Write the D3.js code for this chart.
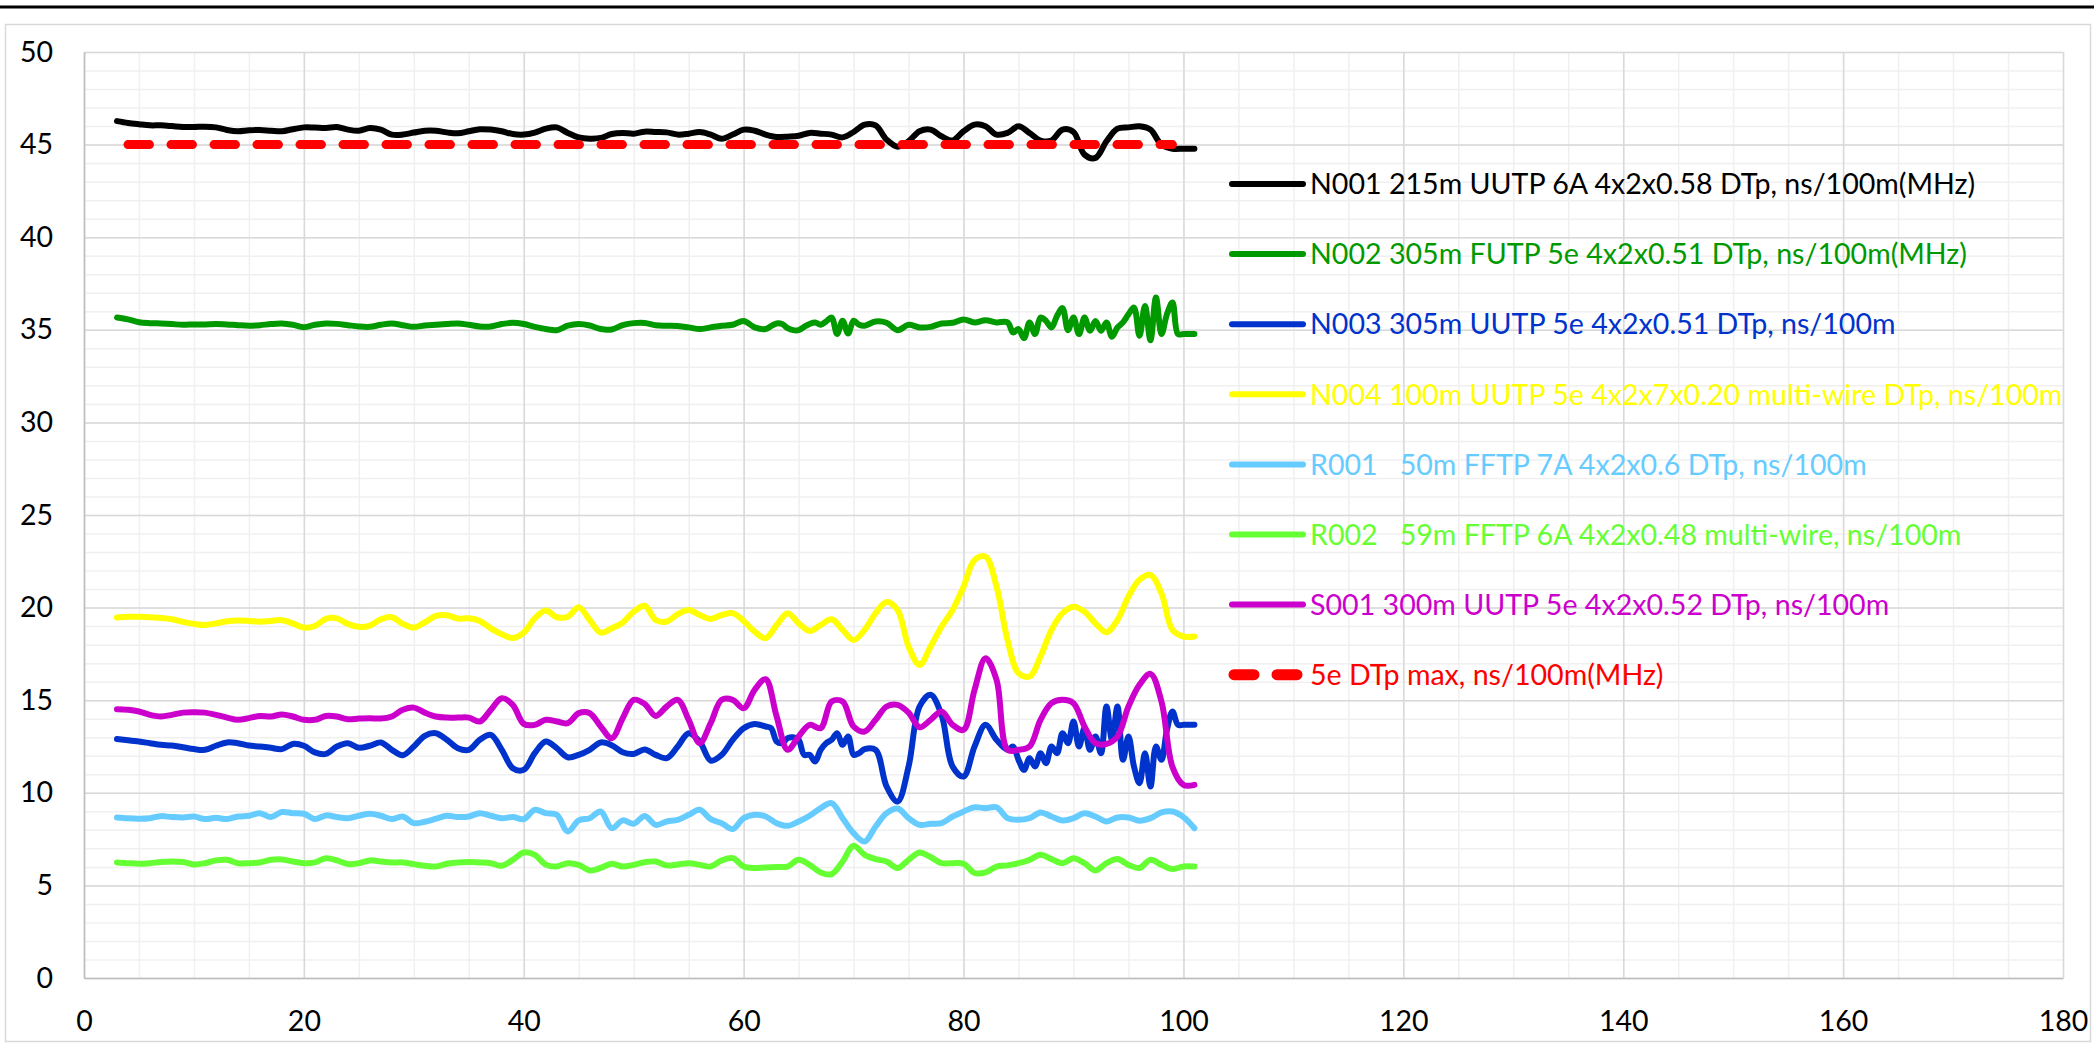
<!DOCTYPE html>
<html>
<head>
<meta charset="utf-8">
<script src="https://cdn.jsdelivr.net/npm/d3@7"></script>
<style>
  body { margin: 0; background: #fff; }
  text { font-family: Lato, "Open Sans", sans-serif; }
</style>
</head>
<body>
<div id="chart"></div>
<script>
// Frequency samples (MHz)
const freq = [3,4,5,6,7,8,9,10,11,12,13,14,15,16,17,18,19,20,21,22,23,24,25,26,27,28,29,30,
  31,32,33,34,35,36,37,38,39,40,41,42,43,44,45,46,47,48,49,50,51,52,53,54,55,56,57,58,59,60,
  61,62,63,64,65,66,67,68,69,70,71,72,73,74,75,76,77,78,79,80,81,82,83,84,85,86,87,88,89,90,
  91,92,93,94,95,96,97,98,99,100,101];

// finer sampling used by the two noisy series
const freqFine = [3,4,5,6,7,8,9,10,11,12,13,14,15,16,17,18,19,20,21,22,23,24,25,26,27,28,29,30,
  31,32,33,34,35,36,37,38,39,40,41,42,43,44,45,46,47,48,49,50,51,52,53,54,55,56,57,58,59,60,61,62,
  62.5,63,63.5,64,64.5,65,65.5,66,66.5,67,67.5,68,68.5,69,69.5,70,70.5,
  71,72,73,74,75,76,77,78,79,80,81,82,83,84,
  84.5,85,85.5,86,86.5,87,87.5,88,88.5,89,89.5,90,90.5,91,91.5,92,92.5,93,93.5,94,94.5,95,95.5,
  96,96.5,97,97.5,98,98.5,99,99.5,100,101];

const n001 = [46.27,46.17,46.1,46.04,46.04,46.0,45.95,45.95,45.97,45.93,45.79,45.72,45.77,45.79,45.75,
  45.72,45.83,45.93,45.92,45.9,45.95,45.81,45.75,45.9,45.81,45.54,45.54,45.65,45.75,45.75,45.66,45.61,
  45.72,45.83,45.81,45.72,45.57,45.54,45.65,45.86,45.93,45.63,45.39,45.32,45.36,45.57,45.63,45.59,45.7,
  45.68,45.66,45.54,45.59,45.68,45.54,45.32,45.54,45.81,45.75,45.54,45.41,45.43,45.48,45.63,45.59,45.54,
  45.39,45.68,46.08,46.04,45.27,44.89,45.18,45.72,45.81,45.45,45.22,45.72,46.08,45.99,45.54,45.63,45.99,
  45.63,45.22,45.22,45.81,45.68,44.46,44.28,45.18,45.86,45.93,45.99,45.81,45.0,44.78,44.78,44.78];

const n002 = [35.66,35.56,35.41,35.36,35.34,35.31,35.27,35.29,35.29,35.31,35.29,35.25,35.22,35.25,35.31,
  35.34,35.27,35.14,35.27,35.34,35.32,35.25,35.18,35.16,35.27,35.34,35.25,35.16,35.23,35.27,35.31,35.34,
  35.27,35.18,35.18,35.31,35.38,35.31,35.16,35.04,34.98,35.22,35.31,35.23,35.04,35.02,35.25,35.36,35.37,
  35.25,35.22,35.2,35.13,35.04,35.13,35.22,35.27,35.48,35.13,35.04,
  35.2,35.34,35.31,35.09,34.98,34.98,35.16,35.31,35.4,35.27,35.45,35.66,34.77,35.49,34.8,35.49,35.27,
  35.22,35.45,35.38,34.98,35.27,35.13,35.16,35.34,35.38,35.56,35.4,35.52,35.4,35.4,
  34.86,35.04,34.55,35.4,34.77,35.66,35.48,35.13,35.75,36.17,34.98,35.66,34.77,35.66,34.95,35.48,34.95,
  35.4,34.62,35.13,35.4,35.84,36.2,34.68,36.29,34.44,36.74,34.77,35.84,36.47,34.77,34.77,34.77];

const n003 = [12.9,12.84,12.77,12.68,12.59,12.55,12.46,12.36,12.32,12.54,12.72,12.68,12.55,12.5,12.43,
  12.36,12.64,12.54,12.18,12.1,12.5,12.68,12.43,12.54,12.72,12.32,12.03,12.5,13.08,13.22,12.86,12.41,
  12.32,12.86,13.13,12.32,11.33,11.24,12.14,12.77,12.41,11.92,12.05,12.32,12.72,12.57,12.19,12.1,12.34,
  12.05,11.87,12.5,13.22,12.77,11.74,12.05,12.86,13.49,13.72,13.58,
  13.49,12.77,12.68,12.95,13.0,12.86,12.05,12.05,11.69,12.32,12.68,12.86,13.22,12.59,13.04,12.05,12.14,
  12.36,12.32,10.34,9.53,11.42,14.66,15.29,14.2,11.42,10.88,12.5,13.67,12.86,12.32,
  12.5,11.78,11.24,11.87,11.42,12.14,11.6,12.5,12.14,13.22,12.68,13.85,12.5,13.49,12.32,13.04,12.14,
  14.66,12.86,14.66,11.78,13.04,11.42,10.52,12.14,10.34,12.5,11.78,13.4,14.39,13.67,13.67,13.67];

const n004 = [19.46,19.5,19.5,19.48,19.44,19.37,19.23,19.12,19.06,19.15,19.26,19.3,19.28,19.24,19.28,
  19.32,19.15,18.92,19.01,19.39,19.42,19.12,18.96,19.03,19.37,19.48,19.12,18.92,19.21,19.55,19.59,19.41,
  19.42,19.28,18.88,18.56,18.36,18.65,19.42,19.84,19.48,19.51,20.02,19.33,18.65,18.88,19.19,19.78,20.1,
  19.33,19.25,19.64,19.87,19.6,19.39,19.6,19.7,19.28,18.7,18.35,19.06,19.7,19.15,18.74,19.06,19.37,18.8,
  18.25,18.8,19.7,20.3,19.87,17.9,16.9,17.9,18.97,19.87,21.13,22.57,22.75,21.13,18.25,16.46,16.28,17.36,
  18.8,19.7,20.05,19.78,19.15,18.67,19.33,20.6,21.5,21.76,20.77,18.8,18.44,18.44];

const r001 = [8.67,8.62,8.6,8.63,8.74,8.69,8.67,8.72,8.58,8.65,8.58,8.72,8.76,8.9,8.69,8.96,8.9,8.87,
  8.58,8.78,8.69,8.63,8.76,8.87,8.76,8.58,8.72,8.36,8.44,8.6,8.76,8.69,8.72,8.9,8.76,8.63,8.69,8.58,
  9.08,8.9,8.81,7.91,8.51,8.63,8.99,8.09,8.51,8.33,8.75,8.27,8.45,8.54,8.81,9.08,8.58,8.36,8.04,8.63,
  8.81,8.72,8.36,8.22,8.45,8.76,9.17,9.44,8.63,7.82,7.37,8.18,8.9,9.15,8.63,8.27,8.33,8.36,8.72,8.99,
  9.22,9.17,9.22,8.63,8.54,8.63,8.94,8.72,8.51,8.63,8.9,8.72,8.45,8.67,8.67,8.49,8.63,8.94,8.99,8.69,8.09];

const r002 = [6.24,6.2,6.17,6.2,6.26,6.29,6.26,6.13,6.2,6.35,6.38,6.2,6.2,6.24,6.38,6.4,6.29,6.2,6.24,
  6.47,6.35,6.15,6.2,6.35,6.29,6.24,6.24,6.15,6.06,6.02,6.17,6.24,6.26,6.24,6.2,6.06,6.38,6.78,6.65,
  6.12,6.02,6.2,6.11,5.81,5.94,6.17,6.02,6.11,6.25,6.29,6.08,6.13,6.2,6.11,6.02,6.35,6.47,6.02,5.94,
  5.97,5.99,6.02,6.38,6.11,5.7,5.61,6.29,7.14,6.65,6.42,6.29,5.94,6.38,6.78,6.53,6.2,6.2,6.17,5.67,
  5.7,6.02,6.08,6.2,6.38,6.65,6.42,6.2,6.47,6.2,5.81,6.2,6.42,6.11,5.94,6.38,6.11,5.88,6.02,6.02];

const s001 = [14.51,14.48,14.39,14.21,14.12,14.21,14.33,14.35,14.33,14.21,14.06,13.94,14.03,14.15,14.12,
  14.23,14.12,13.94,13.94,14.15,14.12,13.97,14.01,14.03,14.01,14.12,14.48,14.6,14.33,14.12,14.06,14.06,
  14.06,13.85,14.48,15.11,14.75,13.72,13.67,13.94,13.85,13.76,14.3,14.3,13.58,12.95,14.03,15.02,14.8,
  14.15,14.66,15.02,13.94,12.68,13.76,15.02,15.02,14.57,15.56,16.13,14.12,12.32,13.04,13.67,13.49,14.93,
  14.93,13.58,13.31,13.94,14.66,14.75,14.33,13.54,13.94,14.39,13.67,13.4,15.56,17.27,16.1,12.32,12.32,
  12.5,13.94,14.84,15.02,14.84,13.58,12.68,12.64,13.04,14.66,15.83,16.42,14.93,11.4,10.43,10.43];

// 5e limit line
const limitFreq = [4, 99];
const limitVals = [45, 45];

const xTicks = [0, 20, 40, 60, 80, 100, 120, 140, 160, 180];
const yTicks = [0, 5, 10, 15, 20, 25, 30, 35, 40, 45, 50];

const seriesNames = [
  "N001 215m UUTP 6A 4x2x0.58 DTp, ns/100m(MHz)",
  "N002 305m FUTP 5e 4x2x0.51 DTp, ns/100m(MHz)",
  "N003 305m UUTP 5e 4x2x0.51 DTp, ns/100m",
  "N004 100m UUTP 5e 4x2x7x0.20 multi-wire DTp, ns/100m",
  "R001   50m FFTP 7A 4x2x0.6 DTp, ns/100m",
  "R002   59m FFTP 6A 4x2x0.48 multi-wire, ns/100m",
  "S001 300m UUTP 5e 4x2x0.52 DTp, ns/100m",
  "5e DTp max, ns/100m(MHz)"
];
const seriesColors = ["#000000", "#009900", "#0033CC", "#FFFF00", "#66CCFF", "#66FF33", "#CC00CC", "#FF0000"];

const series = [
  { x: freq, y: n001 },
  { x: freqFine, y: n002 },
  { x: freqFine, y: n003 },
  { x: freq, y: n004 },
  { x: freq, y: r001 },
  { x: freq, y: r002 },
  { x: freq, y: s001 },
  { x: limitFreq, y: limitVals, dashed: true }
].map((s, i) => ({ ...s, name: seriesNames[i], color: seriesColors[i] }));

const W = 2094, H = 1057;
const margin = { top: 52, right: 31, bottom: 79, left: 84 };
const width = W - margin.left - margin.right;
const height = H - margin.top - margin.bottom;

const root = d3.select("#chart").append("svg")
    .attr("width", W)
    .attr("height", H);

// top rule and chart frame
root.append("line")
    .attr("x1", 0).attr("x2", W).attr("y1", 7).attr("y2", 7)
    .style("stroke", "#000").style("stroke-width", 3);

root.append("rect")
    .attr("x", 5.5).attr("y", 24.5)
    .attr("width", 2085).attr("height", 1017)
    .style("fill", "none").style("stroke", "#d9d9d9").style("stroke-width", 1.5);

const svg = root.append("g")
    .attr("transform", `translate(${margin.left},${margin.top})`);

const xScale = d3.scaleLinear().domain([0, 180]).range([0, width]);
const yScale = d3.scaleLinear().domain([0, 50]).range([height, 0]);

// minor grid
svg.append("g")
    .call(d3.axisBottom(xScale).tickValues(d3.range(0, 181, 5)).tickSize(height).tickFormat(""))
    .call(g => g.select(".domain").remove())
    .selectAll("line").style("stroke", "#f0f0f0").style("stroke-width", 1.5);

svg.append("g")
    .call(d3.axisLeft(yScale).tickValues(d3.range(0, 51, 1)).tickSize(-width).tickFormat(""))
    .call(g => g.select(".domain").remove())
    .selectAll("line").style("stroke", "#f0f0f0").style("stroke-width", 1.5);

// major grid
svg.append("g")
    .call(d3.axisBottom(xScale).tickValues(xTicks).tickSize(height).tickFormat(""))
    .call(g => g.select(".domain").remove())
    .selectAll("line").style("stroke", "#d9d9d9").style("stroke-width", 1.5);

svg.append("g")
    .call(d3.axisLeft(yScale).tickValues(yTicks).tickSize(-width).tickFormat(""))
    .call(g => g.select(".domain").remove())
    .selectAll("line").style("stroke", "#d9d9d9").style("stroke-width", 1.5);

// axes labels
svg.append("g")
    .attr("transform", `translate(0,${height})`)
    .call(d3.axisBottom(xScale).tickValues(xTicks).tickSize(0).tickPadding(32))
    .call(g => g.select(".domain").style("stroke", "#bfbfbf").style("stroke-width", 1.5))
    .selectAll("text")
    .style("font-size", "28.5px").style("fill", "#000").attr("dy", "0.35em").attr("y", 43);

svg.append("g")
    .call(d3.axisLeft(yScale).tickValues(yTicks).tickSize(0).tickPadding(31))
    .call(g => g.select(".domain").style("stroke", "#bfbfbf").style("stroke-width", 1.5))
    .selectAll("text")
    .style("font-size", "28.5px").style("fill", "#000");

// series
const line = d3.line()
    .x((d) => xScale(d[0]))
    .y((d) => yScale(d[1]))
    .curve(d3.curveCatmullRom.alpha(0.5));

series.forEach(s => {
    const pts = s.x.map((f, i) => [f, s.y[i]]);
    svg.append("path")
        .datum(pts)
        .attr("d", line)
        .style("fill", "none")
        .style("stroke", s.color)
        .style("stroke-width", s.dashed ? 9 : 6)
        .style("stroke-linecap", "round")
        .style("stroke-linejoin", "round")
        .style("stroke-dasharray", s.dashed ? "21.5,21.5" : null);
});

// legend
const legend = root.append("g")
    .attr("transform", "translate(1232,184)");

legend.selectAll(".legend-item")
    .data(series)
    .enter()
    .append("g")
    .attr("class", "legend-item")
    .attr("transform", (d, i) => `translate(0, ${i * 70.1})`)
    .each(function (d) {
        const g = d3.select(this);
        if (d.dashed) {
            g.append("line")
                .attr("x1", 2).attr("x2", 68)
                .style("stroke", d.color).style("stroke-width", 11)
                .style("stroke-linecap", "round")
                .style("stroke-dasharray", "20,23");
        } else {
            g.append("line")
                .attr("x1", 0).attr("x2", 71)
                .style("stroke", d.color).style("stroke-width", 6)
                .style("stroke-linecap", "round");
        }
        g.append("text")
            .attr("x", 78)
            .attr("dy", "0.36em")
            .style("font-size", "28.6px")
            .style("fill", d.color)
            .style("white-space", "pre")
            .text(d.name);
    });
</script>
</body>
</html>
